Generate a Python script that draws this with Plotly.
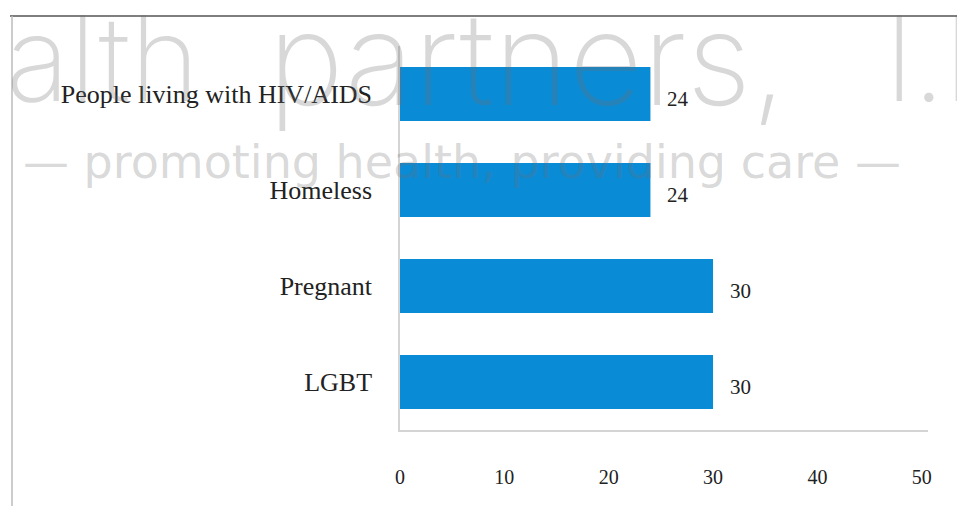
import plotly.graph_objects as go

# data, top to bottom
groups = ["People living with HIV/AIDS", "Homeless", "Pregnant", "LGBT"]
counts = [24, 24, 30, 30]
x_ticks = [0, 10, 20, 30, 40, 50]

# watermark pieces (text only)
wm_big = ["alth", "partners,", "l.l"]
wm_tag = "— promoting health, providing care —"

W, H = 957, 506
L, R, T, B = 400, 29, 46, 76
pw, ph = W - L - R, H - T - B
WM = "rgba(110,110,110,0.27)"


def px(x):
    return (x - L) / pw


def py(y):
    return (H - B - y) / ph


fig = go.Figure()
fig.add_trace(go.Bar(
    x=counts,
    y=groups,
    orientation="h",
    marker=dict(color="#0A8BD6", line=dict(width=0)),
    width=0.56,
    hoverinfo="skip",
))

# value labels just right of each bar
for g, c in zip(groups, counts):
    fig.add_annotation(
        x=c, y=g, text=str(c), showarrow=False,
        xanchor="left", yanchor="middle", xshift=15, yshift=-5,
        font=dict(family="Liberation Serif", size=21, color="#222"),
    )

# big grey watermark
for word, xpos, sz in zip(wm_big, [4, 266, 884], [118, 128, 118]):
    fig.add_annotation(
        xref="paper", yref="paper", x=px(xpos), y=py(58),
        text=word, showarrow=False, xanchor="left", yanchor="middle",
        font=dict(family="Inter, DejaVu Sans", size=sz, weight=200, color=WM),
    )
fig.add_annotation(
    xref="paper", yref="paper", x=px(462), y=py(162),
    text=wm_tag, showarrow=False, xanchor="center", yanchor="middle",
    font=dict(family="DejaVu Sans", size=46, color=WM),
)

# outer frame lines of the original chart box
fig.add_shape(type="line", xref="paper", yref="paper",
              x0=px(10), x1=px(W + 5), y0=py(16), y1=py(16),
              line=dict(color="#555", width=1.5))
fig.add_shape(type="line", xref="paper", yref="paper",
              x0=px(12), x1=px(12), y0=py(16), y1=py(H + 5),
              line=dict(color="#bbb", width=1.5))

fig.update_layout(
    width=W, height=H,
    margin=dict(l=L, r=R, t=T, b=B),
    paper_bgcolor="white", plot_bgcolor="white",
    showlegend=False,
    font=dict(family="Liberation Serif", color="#222"),
    xaxis=dict(
        range=[0, 50.6], tickvals=x_ticks, showgrid=False, zeroline=False,
        showline=True, linecolor="#d4d4d4", linewidth=1.5,
        ticks="", ticklabelstandoff=28,
        tickfont=dict(family="Liberation Serif", size=20, color="#222"),
    ),
    yaxis=dict(
        autorange="reversed", showgrid=False, zeroline=False,
        showline=True, linecolor="#d4d4d4", linewidth=1.5,
        ticks="", ticklabelstandoff=21,
        tickfont=dict(family="Liberation Serif", size=26, color="#222"),
    ),
)

fig.write_html("out.html", config={"displayModeBar": False},
               post_script="document.body.style.margin='0';")
